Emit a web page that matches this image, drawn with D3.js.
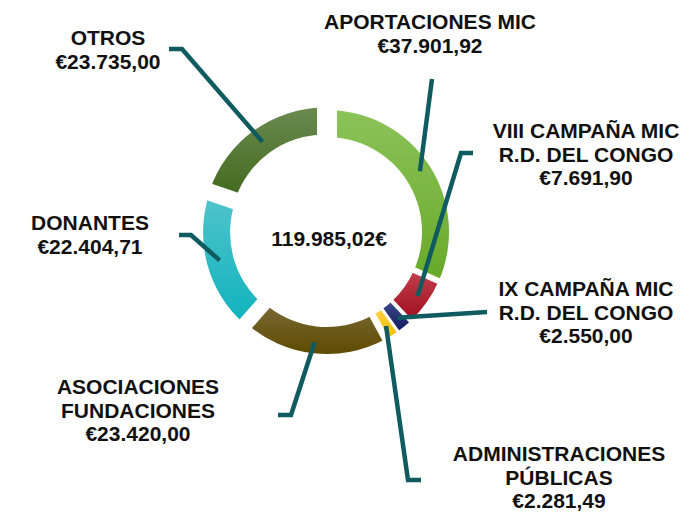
<!DOCTYPE html>
<html>
<head>
<meta charset="utf-8">
<script src="https://cdn.jsdelivr.net/npm/d3@7"></script>
<style>
  body { margin: 0; background: #fff; }
  text { font-family: "Liberation Sans", Arial, sans-serif; font-weight: bold; }
</style>
</head>
<body>
<div id="chart"></div>
<script>
let width = 695,
    height = 517,
    cx = 327, cy = 232,
    outerR = 122, innerR = 95;

// data, clockwise from 12 o'clock
const categories = ["APORTACIONES MIC", "VIII CAMPAÑA MIC R.D. DEL CONGO", "IX CAMPAÑA MIC R.D. DEL CONGO",
  "ADMINISTRACIONES PÚBLICAS", "ASOCIACIONES FUNDACIONES", "DONANTES", "OTROS"];
const labelLines = [
  ["APORTACIONES MIC"],
  ["VIII CAMPAÑA MIC", "R.D. DEL CONGO"],
  ["IX CAMPAÑA MIC", "R.D. DEL CONGO"],
  ["ADMINISTRACIONES", "PÚBLICAS"],
  ["ASOCIACIONES", "FUNDACIONES"],
  ["DONANTES"],
  ["OTROS"]
];
const values = [37901.92, 7691.90, 2550.00, 2281.49, 23420.00, 22404.71, 23735.00];

// styling (not data)
const colorsTop = ["#8cc35a", "#c2404f", "#3d4a86", "#ffd040", "#7b6a38", "#52c4cc", "#6a8a50"];
const colorsBottom = ["#68a928", "#a00d1e", "#0f1a64", "#f3bc00", "#5e4b00", "#0fb3bd", "#41691d"];
const explode = [0, 0, 0, 0, 0, 2, 3];
// white gap after each slice (px)
const gapWidths = [6, 4, 3, 7, 15, 17, 20];
// label text centre x, first baseline y
const labelPos = [[430, 29], [586, 138], [586, 296], [559, 461], [138, 394], [90, 230], [108, 45]];
// leader line: outer points (elbow first, then tail end)
const leaderEnds = [
  [[432, 79]],
  [[461, 153], [473, 153]],
  [[487, 312]],
  [[408, 480], [421, 480]],
  [[291, 415], [278, 415]],
  [[191, 235], [179, 235]],
  [[182, 49], [169, 49]]
];

const es = d3.formatLocale({ decimal: ",", thousands: ".", grouping: [3], currency: ["€", ""] });
const fmtEur = es.format("$,.2f");
const fmtNum = es.format(",.2f");

const svg = d3.select("#chart")
  .append("svg")
  .attr("width", width)
  .attr("height", height)
  .attr("viewBox", [0, 0, width, height]);

const defs = svg.append("defs");
values.forEach((v, i) => {
  const g = defs.append("linearGradient")
    .attr("id", "grad" + i)
    .attr("x1", 0).attr("y1", 0).attr("x2", 0).attr("y2", 1);
  g.append("stop").attr("offset", "0%").attr("stop-color", colorsTop[i]);
  g.append("stop").attr("offset", "100%").attr("stop-color", colorsBottom[i]);
});

const pie = d3.pie().sort(null).value(d => d);
const arcs = pie(values);

const arc = d3.arc().innerRadius(innerR).outerRadius(outerR);

const ring = svg.append("g").attr("transform", `translate(${cx},${cy})`);

ring.selectAll("path.slice")
  .data(arcs)
  .join("path")
  .attr("class", "slice")
  .attr("d", arc)
  .attr("fill", (d, i) => `url(#grad${i})`)
  .attr("transform", (d, i) => {
    const a = (d.startAngle + d.endAngle) / 2;
    return `translate(${explode[i] * Math.sin(a)},${-explode[i] * Math.cos(a)})`;
  });

// white gaps between slices (parallel sided, like a thick white border)
ring.selectAll("line.gap")
  .data(arcs)
  .join("line")
  .attr("class", "gap")
  .attr("x1", d => (innerR - 6) * Math.sin(d.endAngle))
  .attr("y1", d => -(innerR - 6) * Math.cos(d.endAngle))
  .attr("x2", d => (outerR + 8) * Math.sin(d.endAngle))
  .attr("y2", d => -(outerR + 8) * Math.cos(d.endAngle))
  .attr("stroke", "#fff")
  .attr("stroke-width", (d, i) => gapWidths[i]);

// leader lines
const leaderR = 111;
svg.append("g")
  .selectAll("polyline")
  .data(arcs)
  .join("polyline")
  .attr("points", (d, i) => {
    const a = (d.startAngle + d.endAngle) / 2;
    const p0 = [cx + leaderR * Math.sin(a), cy - leaderR * Math.cos(a)];
    return [p0, ...leaderEnds[i]].map(p => p.join(",")).join(" ");
  })
  .attr("fill", "none")
  .attr("stroke", "#0f5b5f")
  .attr("stroke-width", 4.5)
  .attr("stroke-linejoin", "miter");

// labels
const labels = svg.append("g")
  .selectAll("text")
  .data(arcs)
  .join("text")
  .attr("text-anchor", "middle")
  .attr("font-size", 21)
  .attr("fill", "#111");

labels.each(function(d, i) {
  const t = d3.select(this);
  const lines = labelLines[i].concat([fmtEur(values[i])]);
  lines.forEach((s, j) => {
    t.append("tspan")
      .attr("x", labelPos[i][0])
      .attr("y", labelPos[i][1] + j * 23.5)
      .text(s);
  });
});

// total in the middle
svg.append("text")
  .attr("x", 329)
  .attr("y", 246)
  .attr("text-anchor", "middle")
  .attr("font-size", 21)
  .attr("fill", "#111")
  .text(fmtNum(d3.sum(values)) + "€");
</script>
</body>
</html>
